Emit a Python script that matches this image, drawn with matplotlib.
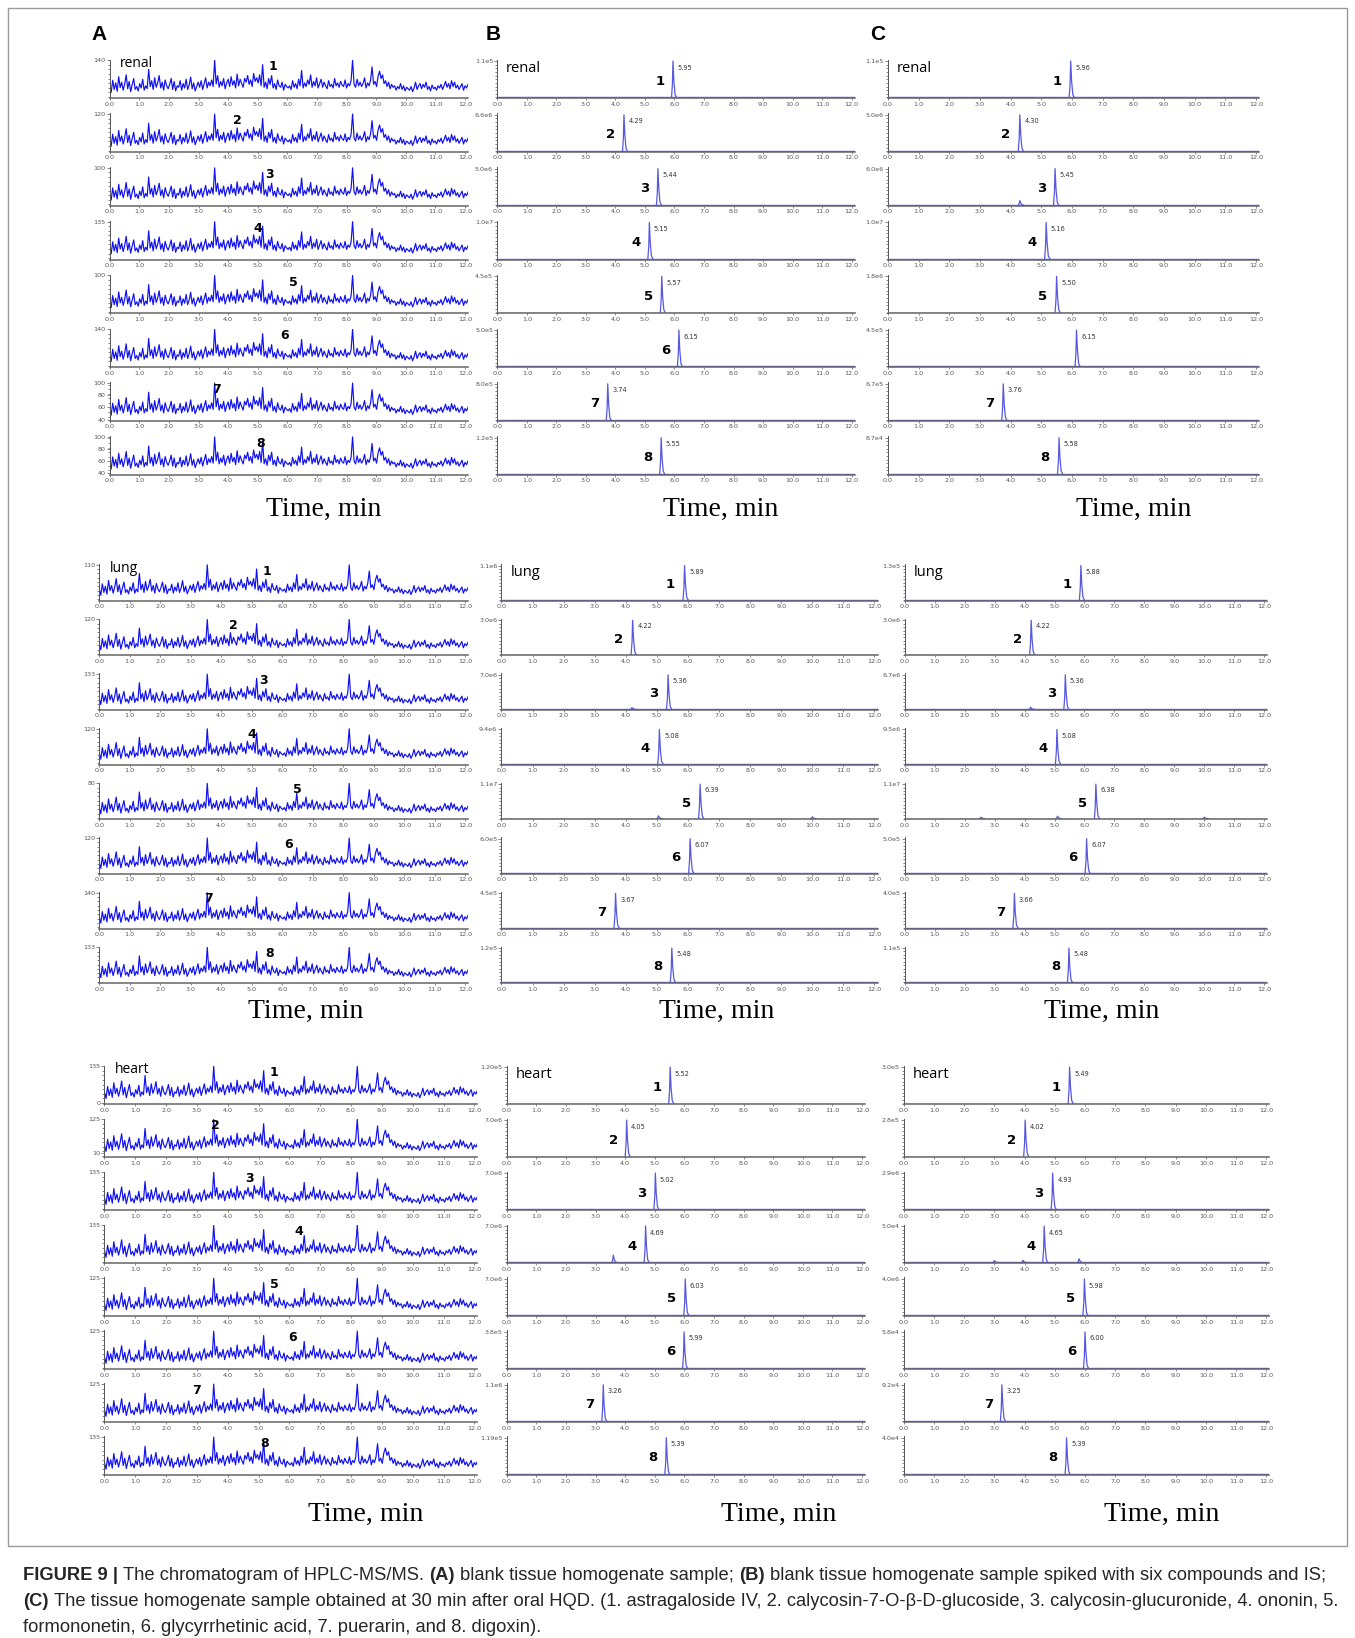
import matplotlib
matplotlib.use("Agg")
import matplotlib.pyplot as plt
from matplotlib.ticker import MultipleLocator
from matplotlib.patches import Rectangle
import numpy as np

W, H = 1355, 1638
S = W / 1297  # layout measured on the 1297 px wide copy

TIME_TICKS = [0.0, 1.0, 2.0, 3.0, 4.0, 5.0, 6.0, 7.0, 8.0, 9.0, 10.0, 11.0, 12.0]

# blank baseline trace (% of full scale), same for every column A panel
NOISE = [
    30, 12, 45, 20, 38, 15, 55, 25, 40, 18, 35, 60, 22, 42, 14, 33, 50, 20, 28, 16,
    36, 24, 48, 18, 30, 22, 75, 28, 44, 20, 52, 26, 38, 58, 24, 40, 18, 46, 30, 22,
    34, 50, 20, 42, 16, 30, 26, 44, 18, 36, 24, 48, 20, 32, 54, 22, 38, 16, 28, 40,
    26, 44, 20, 36, 52, 24, 40, 30, 46, 28, 100, 35, 58, 26, 42, 30, 50, 22, 38, 48,
    28, 55, 32, 44, 24, 62, 30, 48, 36, 26, 50, 40, 58, 34, 46, 28, 64, 42, 52, 38,
    60, 30, 88, 26, 40, 22, 50, 34, 58, 24, 36, 20, 46, 30, 26, 40, 18, 34, 28, 24,
    30, 20, 44, 26, 36, 22, 48, 30, 72, 24, 38, 28, 46, 34, 60, 26, 42, 30, 52, 24,
    36, 48, 26, 40, 30, 22, 44, 28, 34, 24, 50, 30, 38, 26, 42, 32, 28, 46, 24, 36,
    30, 44, 100, 34, 26, 48, 30, 40, 28, 36, 52, 24, 38, 30, 46, 82, 34, 42, 28, 56,
    70, 50, 60, 36, 44, 28, 40, 22, 34, 26, 30, 18, 28, 22, 36, 20, 30, 16, 26, 22,
    18, 28, 14, 24, 40, 20, 30, 36, 22, 34, 26, 40, 20, 28, 16, 32, 22, 26, 18, 30,
    24, 34, 20, 30, 42, 26, 36, 22, 44, 28, 40, 24, 32, 20, 28, 36, 18, 30, 24, 34,
]

# column A: y tick labels per row, and where the compound number sits (min)
RENAL_A_TICKS = [[140], [120], [100], [135], [100], [140], [40, 60, 80, 100], [40, 60, 80, 100]]
LUNG_A_TICKS = [[110], [120], [133], [120], [80], [120], [140], [133]]
HEART_A_TICKS = [[0, 135], [10, 125], [135], [135], [125], [125], [125], [135]]
RENAL_A_NUM_X = [5.5, 4.3, 5.4, 5.0, 6.2, 5.9, 3.6, 5.1]
LUNG_A_NUM_X = [5.5, 4.4, 5.4, 5.0, 6.5, 6.2, 3.6, 5.6]
HEART_A_NUM_X = [5.5, 3.6, 4.7, 6.3, 5.5, 6.1, 3.0, 5.2]

# columns B and C: retention time and full-scale label of each trace
RENAL_B_RT = [5.95, 4.29, 5.44, 5.15, 5.57, 6.15, 3.74, 5.55]
RENAL_B_TOP = ["1.1e5", "6.6e6", "5.0e6", "1.0e7", "4.5e5", "5.0e5", "8.0e5", "1.2e5"]
RENAL_C_RT = [5.96, 4.30, 5.45, 5.16, 5.50, 6.15, 3.76, 5.58]
RENAL_C_TOP = ["1.1e5", "5.0e6", "6.0e6", "1.0e7", "1.8e6", "4.5e5", "6.7e5", "8.7e4"]
LUNG_B_RT = [5.89, 4.22, 5.36, 5.08, 6.39, 6.07, 3.67, 5.48]
LUNG_B_TOP = ["1.1e6", "3.0e6", "7.0e6", "9.4e6", "1.1e7", "6.0e5", "4.5e5", "1.2e5"]
LUNG_C_RT = [5.88, 4.22, 5.36, 5.08, 6.38, 6.07, 3.66, 5.48]
LUNG_C_TOP = ["1.3e5", "3.0e6", "6.7e6", "9.5e6", "1.1e7", "5.0e5", "4.0e5", "1.1e5"]
HEART_B_RT = [5.52, 4.05, 5.02, 4.69, 6.03, 5.99, 3.26, 5.39]
HEART_B_TOP = ["1.20e5", "7.0e6", "7.0e6", "7.0e6", "7.0e6", "3.8e5", "1.1e6", "1.19e5"]
HEART_C_RT = [5.49, 4.02, 4.93, 4.65, 5.98, 6.00, 3.25, 5.39]
HEART_C_TOP = ["3.0e5", "2.8e5", "2.9e6", "5.0e4", "4.0e6", "5.8e4", "9.2e4", "4.0e4"]

# small side peaks: (tissue, column, row, time, fraction of full scale)
MINOR_PEAKS = [
    ("renal", "C", 2, 4.30, 0.12),
    ("lung", "B", 2, 4.20, 0.05),
    ("lung", "B", 4, 5.05, 0.08),
    ("lung", "B", 4, 10.00, 0.05),
    ("lung", "C", 2, 4.20, 0.06),
    ("lung", "C", 4, 2.55, 0.04),
    ("lung", "C", 4, 5.10, 0.07),
    ("lung", "C", 4, 10.00, 0.04),
    ("heart", "B", 3, 3.60, 0.20),
    ("heart", "C", 3, 3.00, 0.05),
    ("heart", "C", 3, 3.95, 0.06),
    ("heart", "C", 3, 5.80, 0.10),
]
HIDDEN_NUMBERS = [("renal", "C", 5)]

TISSUES = ["renal", "lung", "heart"]
A_TICKS = {"renal": RENAL_A_TICKS, "lung": LUNG_A_TICKS, "heart": HEART_A_TICKS}
A_NUM_X = {"renal": RENAL_A_NUM_X, "lung": LUNG_A_NUM_X, "heart": HEART_A_NUM_X}
PEAK_RT = {("renal", "B"): RENAL_B_RT, ("renal", "C"): RENAL_C_RT,
           ("lung", "B"): LUNG_B_RT, ("lung", "C"): LUNG_C_RT,
           ("heart", "B"): HEART_B_RT, ("heart", "C"): HEART_C_RT}
PEAK_TOP = {("renal", "B"): RENAL_B_TOP, ("renal", "C"): RENAL_C_TOP,
            ("lung", "B"): LUNG_B_TOP, ("lung", "C"): LUNG_C_TOP,
            ("heart", "B"): HEART_B_TOP, ("heart", "C"): HEART_C_TOP}

# layout (in px of the 1297 wide copy): first top, row pitch, axes height, x spans
LAYOUT = {
    "renal": (57, 51.5, 37, {"A": (105, 448), "B": (476, 818), "C": (850, 1205)}),
    "lung": (540, 52.3, 35, {"A": (95, 448), "B": (480, 840), "C": (866, 1213)}),
    "heart": (1020, 50.7, 37, {"A": (100, 457), "B": (485, 828), "C": (865, 1215)}),
}
TIME_LABEL = {"renal": (488, [310, 690, 1085]),
              "lung": (968, [293, 686, 1055]),
              "heart": (1450, [350, 745, 1112])}

TRACE_A = "#1010f0"
TRACE_BC = "#5858e0"
PEAK_X = [-0.05, -0.02, 0.0, 0.03, 0.07, 0.12]
PEAK_Y = [0.0, 0.35, 1.0, 0.45, 0.08, 0.0]

fig = plt.figure(figsize=(W / 100, H / 100), dpi=100)


def add_panel(x0, x1, top, h):
    return fig.add_axes([x0 * S / W, 1 - (top + h) * S / H, (x1 - x0) * S / W, h * S / H])


def style_axis(ax):
    for side in ("top", "right"):
        ax.spines[side].set_visible(False)
    ax.spines["left"].set_color("#555555")
    ax.spines["left"].set_linewidth(0.7)
    ax.spines["bottom"].set_color("#666666")
    ax.spines["bottom"].set_linewidth(1.1)
    ax.set_xlim(0, 12.1)
    ax.set_xticks(TIME_TICKS)
    ax.set_xticklabels([f"{t:.1f}" for t in TIME_TICKS])
    ax.tick_params(axis="x", labelsize=4.6, length=1.5, width=0.5, pad=1, colors="#555555")
    ax.tick_params(axis="y", which="both", labelsize=4.6, length=2, width=0.5, pad=1,
                   colors="#555555")
    ax.tick_params(axis="y", which="minor", length=1.3)
    ax.patch.set_alpha(0)


def add_peak(ax, rt, height, color=TRACE_BC):
    xs = [rt + dx for dx in PEAK_X]
    ys = [height * f for f in PEAK_Y]
    ax.plot(xs, ys, color=color, lw=0.9)


noise_t = np.linspace(0, 12.1, len(NOISE))

for tissue in TISSUES:
    top0, pitch, ah, spans = LAYOUT[tissue]
    for row in range(8):
        top = top0 + pitch * row
        # column A - blank homogenate
        ax = add_panel(*spans["A"], top, ah)
        style_axis(ax)
        ticks = A_TICKS[tissue][row]
        lo = ticks[0] if len(ticks) > 2 else 0
        hi = ticks[-1]
        trace = [lo + v / 100 * (hi - lo) for v in NOISE]
        ax.plot(noise_t, trace, color=TRACE_A, lw=0.85)
        ax.set_ylim(lo - (hi - lo) * 0.04, hi * 1.0 + (hi - lo) * 0.02)
        ax.set_yticks(ticks)
        ax.set_yticklabels([str(t) for t in ticks])
        ax.yaxis.set_minor_locator(MultipleLocator((hi - lo) / 8))
        ax.text(A_NUM_X[tissue][row], lo + (hi - lo) * 0.82, str(row + 1),
                fontsize=9, fontweight="bold", ha="center", va="center")
        if row == 0:
            ax.text(0.35, lo + (hi - lo) * 0.9, tissue, fontsize=10,
                    family="Open Sans", va="center")

        # columns B and C
        for col in ("B", "C"):
            ax = add_panel(*spans[col], top, ah)
            style_axis(ax)
            rt = PEAK_RT[(tissue, col)][row]
            top_label = PEAK_TOP[(tissue, col)][row]
            h = float(top_label)
            ax.plot([0, 12.1], [0, 0], color=TRACE_BC, lw=1.0)
            add_peak(ax, rt, h)
            for t2, c2, r2, pt, frac in MINOR_PEAKS:
                if (t2, c2, r2) == (tissue, col, row):
                    add_peak(ax, pt, h * frac)
            ax.set_ylim(-h * 0.02, h * 1.04)
            ax.set_yticks([h])
            ax.set_yticklabels([top_label])
            ax.yaxis.set_minor_locator(MultipleLocator(h / 10))
            ax.text(rt + 0.15, h * 0.82, f"{rt:.2f}", fontsize=4.8, color="#333333",
                    va="center")
            if (tissue, col, row) not in HIDDEN_NUMBERS:
                ax.text(rt - 0.45, h * 0.45, str(row + 1), fontsize=9.5,
                        fontweight="bold", ha="center", va="center")
            if row == 0:
                ax.text(0.3, h * 0.8, tissue, fontsize=10.5, family="Open Sans",
                        va="center")

    y, xs = TIME_LABEL[tissue]
    for x in xs:
        fig.text(x * S / W, 1 - y * S / H, "Time, min", fontsize=20,
                 family="Liberation Serif", ha="center", va="center")

for letter, x in zip("ABC", [95, 472, 840]):
    fig.text(x * S / W, 1 - 33 * S / H, letter, fontsize=15, fontweight="bold",
             family="Liberation Sans", ha="center", va="center")

# frame around the figure and caption below it
fig.add_artist(Rectangle((8 / W, 1 - 1546 / H), (1347 - 8) / W, (1546 - 8) / H,
                         transform=fig.transFigure, fill=False, ec="#9a9a9a", lw=1.0))

CAPTION = [
    [("FIGURE 9 |", "bold"), ("The chromatogram of HPLC-MS/MS.", "normal"), ("(A)", "bold"),
     ("blank tissue homogenate sample;", "normal"), ("(B)", "bold"),
     ("blank tissue homogenate sample spiked with six compounds and IS;", "normal")],
    [("(C)", "bold"),
     ("The tissue homogenate sample obtained at 30 min after oral HQD. (1. astragaloside IV, "
      "2. calycosin-7-O-\u03b2-D-glucoside, 3. calycosin-glucuronide, 4. ononin, 5.", "normal")],
    [("formononetin, 6. glycyrrhetinic acid, 7. puerarin, and 8. digoxin).", "normal")],
]
CAP_Y = [1575, 1601, 1627]
CAP_X0, CAP_MAXW = 23, 1322

renderer = fig.canvas.get_renderer()


def draw_caption(size, draw=True):
    probe = fig.text(0, 0, "a a", fontsize=size, family="Liberation Sans")
    w_sp = probe.get_window_extent(renderer).width
    probe.set_text("aa")
    w_sp -= probe.get_window_extent(renderer).width
    probe.remove()
    widths = []
    for runs, y in zip(CAPTION, CAP_Y):
        x = CAP_X0
        for text, weight in runs:
            t = fig.text(x / W, 1 - y / H, text, fontsize=size, fontweight=weight,
                         family="Liberation Sans", va="center", color="#262626")
            x += t.get_window_extent(renderer).width + w_sp
            if not draw:
                t.remove()
        widths.append(x - w_sp - CAP_X0)
    return max(widths)


base = 11.6
widest = draw_caption(base, draw=False)
draw_caption(base * CAP_MAXW / widest)

fig.savefig("out.png", dpi=100)
